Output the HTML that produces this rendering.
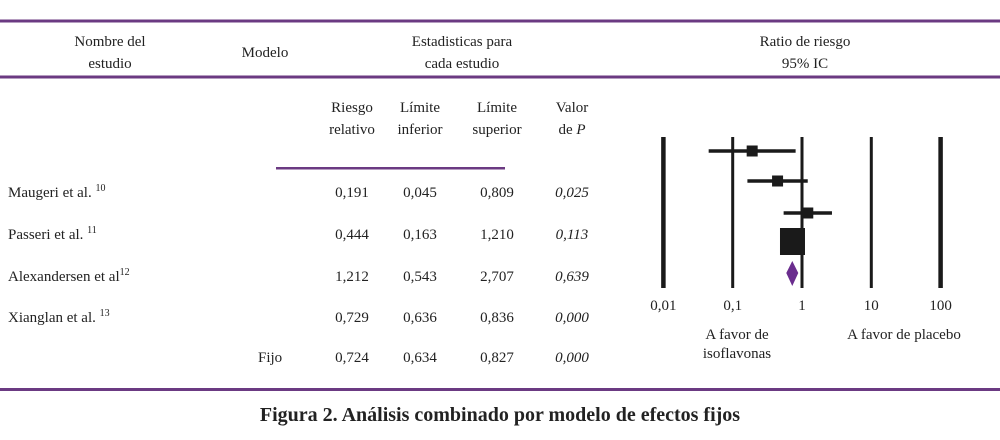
<!DOCTYPE html>
<html><head><meta charset="utf-8"><style>
body{margin:0;background:#fff;width:1000px;height:435px;overflow:hidden}
svg text{font-family:"Liberation Serif",serif;fill:#222;font-size:15px}
</style></head><body>
<svg width="1000" height="435" viewBox="0 0 1000 435">
<rect x="0" y="19.5" width="1000" height="3" fill="#6b3a82"/>
<rect x="0" y="75.5" width="1000" height="3" fill="#6b3a82"/>
<rect x="0" y="388" width="1000" height="3" fill="#6b3a82"/>
<rect x="276" y="167" width="229" height="2.5" fill="#6b3a82"/>
<g text-anchor="middle">
<text x="110" y="46">Nombre del</text><text x="110" y="68">estudio</text>
<text x="265" y="57">Modelo</text>
<text x="462" y="46">Estadisticas para</text><text x="462" y="68">cada estudio</text>
<text x="805" y="46">Ratio de riesgo</text><text x="805" y="68">95% IC</text>
<text x="352" y="112">Riesgo</text><text x="352" y="134">relativo</text>
<text x="420" y="112">Límite</text><text x="420" y="134">inferior</text>
<text x="497" y="112">Límite</text><text x="497" y="134">superior</text>
<text x="572" y="112">Valor</text><text x="572" y="134">de <tspan font-style="italic">P</tspan></text>
</g>
<g id="table"></g>
<g id="plot"></g>
<text x="500" y="421" text-anchor="middle" font-weight="bold" style="font-size:20px">Figura 2.  Análisis combinado por modelo de efectos fijos</text>
</svg>
<script>
const studies=["Maugeri et al.","Passeri et al.","Alexandersen et al","Xianglan et al."];
const refs=["10","11","12","13"];
const rr=[0.191,0.444,1.212,0.729,0.724];
const lower=[0.045,0.163,0.543,0.636,0.634];
const upper=[0.809,1.210,2.707,0.836,0.827];
const pvals=["0,025","0,113","0,639","0,000","0,000"];
const ticks=[0.01,0.1,1,10,100];
const tickLabels=["0,01","0,1","1","10","100"];
const NS="http://www.w3.org/2000/svg";
function mk(t,a,p){const e=document.createElementNS(NS,t);for(const k in a)e.setAttribute(k,a[k]);p.appendChild(e);return e;}
const fmt=v=>v.toFixed(3).replace('.',',');
const tb=document.getElementById('table');
const rowY=[197,239,281,322,362];
for(let i=0;i<5;i++){
  const y=rowY[i];
  if(i<4){
    const t=mk('text',{x:8,y:y},tb);
    
    
    t.textContent=studies[i]+(i==2?'':' ');
    const s=mk('tspan',{dy:-6,style:'font-size:10px'},t);s.textContent=refs[i];
  } else {
    const t=mk('text',{x:258,y:y},tb);
    
    
    t.textContent='Fijo';
  }
  [[352,fmt(rr[i])],[420,fmt(lower[i])],[497,fmt(upper[i])],[572,pvals[i]]].forEach((c,j)=>{
    const t=mk('text',{x:c[0],y:y,'text-anchor':'middle'},tb);
    
    
    if(j==3)t.setAttribute('font-style','italic');
    t.textContent=c[1];
  });
}
const pl=document.getElementById('plot');
const X=v=>802+69.3*Math.log10(v);
ticks.forEach((v,i)=>{
  const w=(i==0||i==4)?4.5:3;
  const r=mk('rect',{x:X(v)-w/2,y:137,width:w,height:151,fill:'#1a1a1a'},pl);
  
  
  const t=mk('text',{x:X(v),y:310,'text-anchor':'middle'},pl);
  
  
  t.textContent=tickLabels[i];
});
const plotY=[151,181,213];
for(let i=0;i<3;i++){
  const l=mk('line',{x1:X(lower[i]),x2:X(upper[i]),y1:plotY[i],y2:plotY[i],stroke:'#1a1a1a','stroke-width':3.5},pl);
  
  
  const s=mk('rect',{x:X(rr[i])-5.5,y:plotY[i]-5.5,width:11,height:11,fill:'#1a1a1a'},pl);
  
  
}
const big=mk('rect',{x:X(rr[3])-12.5,y:228,width:25,height:27,fill:'#1a1a1a'},pl);


const cx=X(rr[4]);
const d=mk('polygon',{fill:'#6a2d8e'},pl);
d.setAttribute('points',`${cx-6},273 ${cx},261 ${cx+6},273 ${cx},286`);


[["A favor de",737,339],["isoflavonas",737,358],["A favor de placebo",904,339]].forEach(a=>{
  const t=mk('text',{x:a[1],y:a[2],'text-anchor':'middle'},pl);
  
  
  t.textContent=a[0];
});
</script>
</body></html>
